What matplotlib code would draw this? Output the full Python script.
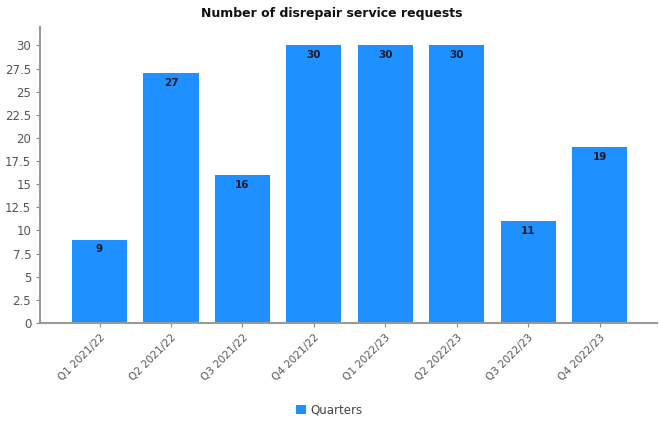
import matplotlib
matplotlib.use("Agg")
import matplotlib.pyplot as plt
import numpy as np

categories = ["Q1 2021/22", "Q2 2021/22", "Q3 2021/22", "Q4 2021/22",
              "Q1 2022/23", "Q2 2022/23", "Q3 2022/23", "Q4 2022/23"]
values = [9, 27, 16, 30, 30, 30, 11, 19]
yticks = [0, 2.5, 5, 7.5, 10, 12.5, 15, 17.5, 20, 22.5, 25, 27.5, 30]
ytick_labels = ["0", "2.5", "5", "7.5", "10", "12.5", "15", "17.5", "20", "22.5", "25", "27.5", "30"]

fig = plt.figure(figsize=(6.59, 4.21), dpi=100)
ax = fig.add_axes([0.061, 0.233, 0.936, 0.703])
x = np.arange(len(categories))
bars = ax.bar(x, values, width=0.77, color="#1E90FF", label="Quarters", zorder=2)
for xi, v in zip(x, values):
    ax.text(xi, v - 0.5, str(v), ha="center", va="top", fontsize=7.5,
            fontweight="bold", color="#1a1a2a")
ax.set_xlim(-0.83, 7.8)
ax.set_ylim(0, 32)
ax.set_yticks(yticks)
ax.set_yticklabels(ytick_labels)
ax.set_xticks(x)
ax.set_xticklabels(categories, rotation=45, ha="right", rotation_mode="anchor")
ax.tick_params(axis="both", colors="#888888", labelcolor="#555555", labelsize=8.5, length=3)
ax.tick_params(axis="x", labelsize=7.5)
for s in ["top", "right"]:
    ax.spines[s].set_visible(False)
for s in ["left", "bottom"]:
    ax.spines[s].set_color("#999999")
    ax.spines[s].set_linewidth(1.5)
fig.text(0.503, 0.968, "Number of disrepair service requests", ha="center", va="center",
         fontsize=9, fontweight="bold", color="#111111")
fig.legend(loc="center", bbox_to_anchor=(0.50, 0.025), frameon=False, fontsize=8.5,
           handlelength=0.8, handleheight=0.8, handletextpad=0.4, labelcolor="#444444")
fig.savefig("out.png", dpi=100, facecolor="white")
